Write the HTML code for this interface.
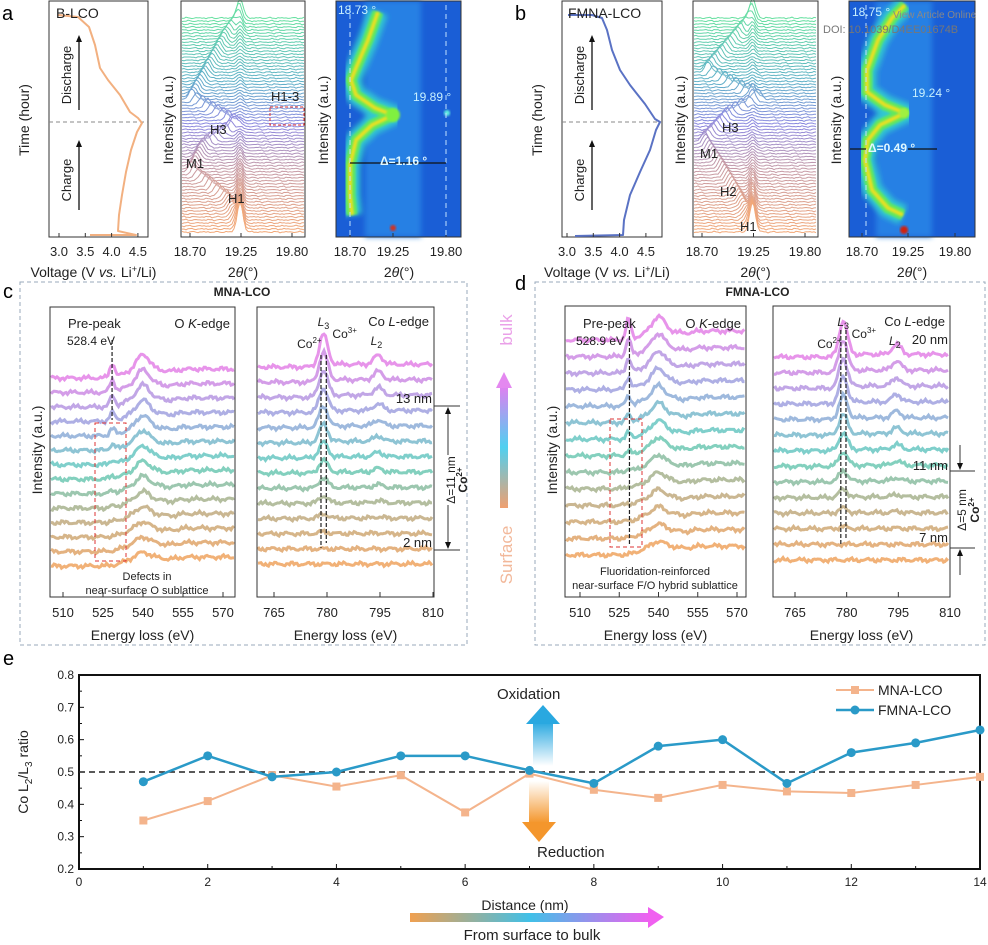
<!DOCTYPE html>
<html><head><meta charset="utf-8"><style>
body{margin:0;background:#fff;}
svg{display:block;font-family:"Liberation Sans",sans-serif;}
</style></head><body>
<svg id="fig" width="988" height="945" viewBox="0 0 988 945" xmlns="http://www.w3.org/2000/svg">
<defs>
<filter id="blur2"><feGaussianBlur stdDeviation="2.6"/></filter>
<filter id="blur1"><feGaussianBlur stdDeviation="1"/></filter>
<linearGradient id="upArr" x1="0" y1="1" x2="0" y2="0"><stop offset="0" stop-color="#fff"/><stop offset="1" stop-color="#29a8e0"/></linearGradient>
<linearGradient id="dnArr" x1="0" y1="0" x2="0" y2="1"><stop offset="0" stop-color="#fff"/><stop offset="1" stop-color="#f4962c"/></linearGradient>
<linearGradient id="sbArr" x1="0" y1="0" x2="1" y2="0"><stop offset="0" stop-color="#f0a050"/><stop offset="0.5" stop-color="#40c0e8"/><stop offset="1" stop-color="#f060f0"/></linearGradient>
<linearGradient id="bulkArr" x1="0" y1="1" x2="0" y2="0"><stop offset="0" stop-color="#f0a070"/><stop offset="0.5" stop-color="#50d0f0"/><stop offset="1" stop-color="#e080f0"/></linearGradient>
</defs>
<g id="topG"></g>
<g id="midG"></g>
<g id="peG"></g>
</svg>
<script>
// ---- Panel e data ----
const distances=[1,2,3,4,5,6,7,8,9,10,11,12,13,14];
const mnaValues=[0.35,0.41,0.49,0.455,0.49,0.375,0.495,0.445,0.42,0.46,0.44,0.435,0.46,0.485];
const fmnaValues=[0.47,0.55,0.485,0.50,0.55,0.55,0.505,0.465,0.58,0.60,0.465,0.56,0.59,0.63];
const xTicks=[0,2,4,6,8,10,12,14];
const yTicks=[0.2,0.3,0.4,0.5,0.6,0.7,0.8];

const NS="http://www.w3.org/2000/svg";
function mk(parent,tag,attrs,text){const e=document.createElementNS(NS,tag);for(const k in attrs)e.setAttribute(k,attrs[k]);if(text!==undefined)e.textContent=text;parent.appendChild(e);return e;}
function noise(i,k){return Math.sin(i*1.7+k*3.1)*0.5+Math.sin(i*0.53+k*7.3)*0.7+Math.sin(i*3.9+k*1.3)*0.4;}
function hex(c){return [parseInt(c.slice(1,3),16),parseInt(c.slice(3,5),16),parseInt(c.slice(5,7),16)];}
function grad(stops,f){for(let i=0;i<stops.length-1;i++){if(f<=stops[i+1][0]){const t=(f-stops[i][0])/(stops[i+1][0]-stops[i][0]);const a=hex(stops[i][1]),b=hex(stops[i+1][1]);return `rgb(${a.map((v,j)=>Math.round(v+(b[j]-v)*t)).join(',')})`;}}return stops[stops.length-1][1];}
function txt(p,x,y,s,t,name,extra){const e=mk(p,'text',Object.assign({x:x,y:y,'font-size':s},extra||{}),t);return e;}
function interp(keys,f){for(let i=0;i<keys.length-1;i++){if(f<=keys[i+1][0]){const t=(f-keys[i][0])/(keys[i+1][0]-keys[i][0]);return keys[i][1]+(keys[i+1][1]-keys[i][1])*t;}}return keys[keys.length-1][1];}

const gTop=document.getElementById('topG');
txt(gTop,2,20,20,'a','panel-a-label');
txt(gTop,515,20,20,'b','panel-b-label');
txt(gTop,3,298,20,'c','panel-c-label');
txt(gTop,515,290,20,'d','panel-d-label');
txt(gTop,3,665,20,'e','panel-e-label');

function voltagePanel(x0,x1,name,color,pts,v30){
  const g=mk(gTop,'g',{});
  mk(g,'rect',{x:x0,y:1,width:x1-x0,height:236,fill:'none',stroke:'#333','stroke-width':1});
  mk(g,'line',{x1:x0,y1:122,x2:x1,y2:122,stroke:'#888','stroke-dasharray':'4,3'});
  mk(g,'polyline',{points:pts.map(p=>p.join(',')).join(' '),fill:'none',stroke:color,'stroke-width':2,'stroke-linejoin':'round'});
  ['3.0','3.5','4.0','4.5'].forEach((t,i)=>{const x=v30+i*26.3;mk(g,'line',{x1:x,y1:237,x2:x,y2:233,stroke:'#333'});txt(g,x,256,13,t,'voltage-tick',{'text-anchor':'middle',fill:'#222'});});
  txt(g,x0-20,120,14,'Time (hour)','time-axis-title',{'text-anchor':'middle',transform:`rotate(-90 ${x0-20} 120)`,fill:'#222'});
  txt(g,(x0+x1)/2-5,277,14,'','voltage-axis-title',{'text-anchor':'middle',fill:'#222'}).innerHTML='Voltage (V <tspan font-style="italic">vs.</tspan> Li<tspan dy="-5" font-size="9">+</tspan><tspan dy="5">/Li)</tspan>';
  const ax=x0+30;
  mk(g,'line',{x1:ax,y1:110,x2:ax,y2:40,stroke:'#111','stroke-width':1.3});mk(g,'polygon',{points:`${ax-3},42 ${ax+3},42 ${ax},35`,fill:'#111'});
  mk(g,'line',{x1:ax,y1:210,x2:ax,y2:145,stroke:'#111','stroke-width':1.3});mk(g,'polygon',{points:`${ax-3},147 ${ax+3},147 ${ax},140`,fill:'#111'});
  txt(g,ax-8,75,13,'Discharge','discharge-label',{'text-anchor':'middle',transform:`rotate(-90 ${ax-8} 75)`,fill:'#222'});
  txt(g,ax-8,180,13,'Charge','charge-label',{'text-anchor':'middle',transform:`rotate(-90 ${ax-8} 180)`,fill:'#222'});
}
voltagePanel(49,148,'b-lco','#f2b080',[[90,235],[136,235],[118,231],[119,215],[122,195],[126,172],[131,150],[137,132],[142,123],[138,118],[130,112],[120,95],[108,80],[100,68],[95,45],[89,27],[78,17],[58,15]],59);
txt(gTop,56,18,14,'B-LCO','b-lco-title',{fill:'#222'});
voltagePanel(562,662,'fmna-lco','#5a72c4',[[575,236],[623,235],[624,220],[630,195],[640,172],[650,150],[656,130],[660,122],[655,119],[645,104],[630,85],[620,70],[612,50],[607,30],[602,18],[592,15],[568,15]],567);
txt(gTop,568,18,14,'FMNA-LCO','fmna-lco-title',{fill:'#222'});

const xrdColors=[[0,'#f2a878'],[0.3,'#c49aa8'],[0.5,'#8c88e0'],[0.7,'#5fb0c8'],[1,'#66e0a0']];
function xrdPanel(x0,x1,name,keys,strong){
  const g=mk(gTop,'g',{});
  const d2x=t=>x0+9+(t-18.70)*((x1-x0-22)/1.1);
  const N=72;
  for(let i=N-1;i>=0;i--){
    const f=i/(N-1);const base=232-f*214;const pp=interp(keys,f);
    const mainAmp=interp(strong,f);
    let pts=[];
    for(let x=x0+1;x<=x1-1;x+=2){
      const t=18.70+(x-x0-9)/((x1-x0-22)/1.1);
      let y=base-mainAmp*Math.exp(-Math.pow((t-19.24)/0.04,2))-10*Math.exp(-Math.pow((t-pp)/0.05,2))-0.6*noise(x,i);
      pts.push(x+','+y.toFixed(1));
    }
    mk(g,'polyline',{points:pts.join(' '),fill:'#fff','fill-opacity':0.15,stroke:grad(xrdColors,f),'stroke-width':1});
  }
  mk(g,'rect',{x:x0,y:1,width:x1-x0,height:236,fill:'none',stroke:'#333'});
  [['18.70',18.70],['19.25',19.25],['19.80',19.80]].forEach(([t,v])=>{const x=d2x(v);mk(g,'line',{x1:x,y1:237,x2:x,y2:233,stroke:'#333'});txt(g,x,256,13,t,'2theta-tick',{'text-anchor':'middle',fill:'#222'});});
  txt(g,(x0+x1)/2,277,14,'','2theta-axis-title',{'text-anchor':'middle',fill:'#222'}).innerHTML='2<tspan font-style="italic">θ</tspan>(°)';
  txt(g,x0-8,120,14,'Intensity (a.u.)','intensity-axis-title',{'text-anchor':'middle',transform:`rotate(-90 ${x0-8} 120)`,fill:'#222'});
  return d2x;
}
xrdPanel(181,305,'b-lco',[[0,19.24],[0.15,19.1],[0.28,18.72],[0.4,18.85],[0.5,19.2],[0.62,18.72],[0.8,18.95],[0.92,19.1],[1,19.24]],[[0,20],[0.3,8],[0.5,3],[0.8,4],[1,10]]);
txt(gTop,228,203,13,'H1','h1-label',{fill:'#222'});txt(gTop,210,134,13,'H3','h3-label',{fill:'#222'});txt(gTop,186,168,13,'M1','m1-label',{fill:'#222'});txt(gTop,271,101,13,'H1-3','h1-3-label',{fill:'#222'});
mk(gTop,'rect',{x:270,y:107,width:34,height:18,fill:'none',stroke:'#d33','stroke-dasharray':'3,2'});
xrdPanel(693,818,'fmna-lco',[[0,19.24],[0.15,19.1],[0.3,18.9],[0.42,18.72],[0.55,19.0],[0.62,19.3],[0.75,18.75],[0.9,19.05],[1,19.24]],[[0,20],[0.3,6],[0.5,3],[0.8,4],[1,10]]);
txt(gTop,740,231,13,'H1','h1-label',{fill:'#222'});txt(gTop,720,196,13,'H2','h2-label',{fill:'#222'});txt(gTop,700,158,13,'M1','m1-label',{fill:'#222'});txt(gTop,722,132,13,'H3','h3-label',{fill:'#222'});

function heatmap(x0,x1,name,curve,cx,spot){
  const g=mk(gTop,'g',{});
  mk(g,'rect',{x:x0,y:1,width:x1-x0,height:236,fill:'#1a5ed6'});
  mk(g,'rect',{x:cx-28,y:1,width:56,height:236,fill:'#2880e4',filter:'url(#blur2)'});
  mk(g,'line',{x1:cx,y1:1,x2:cx,y2:237,stroke:'#50e0f0','stroke-width':5,filter:'url(#blur1)'});
  const dd='M'+curve.map(p=>p.join(',')).join(' L');
  mk(g,'path',{d:dd,fill:'none',stroke:'#30c8d0','stroke-width':20,filter:'url(#blur2)','stroke-linejoin':'round'});
  mk(g,'path',{d:dd,fill:'none',stroke:'#60e860','stroke-width':11,filter:'url(#blur1)','stroke-linejoin':'round'});
  mk(g,'path',{d:dd,fill:'none',stroke:'#e8e020','stroke-width':4,filter:'url(#blur1)','stroke-linejoin':'round'});
  spot.forEach(s=>mk(g,'circle',{cx:s[0],cy:s[1],r:s[2],fill:s[3],filter:'url(#blur1)'}));
  mk(g,'rect',{x:x0,y:1,width:x1-x0,height:236,fill:'none',stroke:'#333'});
  return g;
}
heatmap(336,461,'b-lco',[[378,12],[368,40],[356,68],[351,80],[356,95],[375,108],[393,115],[372,125],[356,140],[350,165],[350,195],[352,215]],393,[[393,115,7,'#80f040'],[393,228,3,'#d03020'],[447,113,3,'#60f0e0']]);
[['18.70',350],['19.25',393],['19.80',446]].forEach(([t,x])=>{mk(gTop,'line',{x1:x,y1:237,x2:x,y2:233,stroke:'#333'});txt(gTop,x,256,13,t,'2theta-tick',{'text-anchor':'middle',fill:'#222'});});
mk(gTop,'line',{x1:350,y1:5,x2:350,y2:237,stroke:'#c0e0ff','stroke-dasharray':'5,4'});
mk(gTop,'line',{x1:446,y1:5,x2:446,y2:237,stroke:'#c0e0ff','stroke-dasharray':'5,4'});
txt(gTop,338,14,12,'18.73 °','peak-label',{fill:'#c8f0ff'});txt(gTop,413,101,12,'19.89 °','peak-label',{fill:'#c8f0ff'});
mk(gTop,'line',{x1:350,y1:163,x2:446,y2:163,stroke:'#111','stroke-width':1.2});
txt(gTop,380,165,12,'Δ=1.16 °','delta-label',{fill:'#e0f8ff','font-weight':'bold'});
txt(gTop,399,277,14,'','2theta-axis-title',{'text-anchor':'middle',fill:'#222'}).innerHTML='2<tspan font-style="italic">θ</tspan>(°)';
txt(gTop,328,120,14,'Intensity (a.u.)','intensity-axis-title',{'text-anchor':'middle',transform:'rotate(-90 328 120)',fill:'#222'});

heatmap(849,975,'fmna-lco',[[905,5],[892,18],[878,40],[867,70],[867,92],[885,105],[905,113],[880,125],[868,140],[865,160],[872,190],[888,208],[903,215]],904,[[904,113,5,'#a0f040'],[904,230,4,'#d02010']]);
[['18.70',862],['19.25',908],['19.80',955]].forEach(([t,x])=>{mk(gTop,'line',{x1:x,y1:237,x2:x,y2:233,stroke:'#333'});txt(gTop,x,256,13,t,'2theta-tick',{'text-anchor':'middle',fill:'#222'});});
mk(gTop,'line',{x1:866,y1:5,x2:866,y2:237,stroke:'#c0e0ff','stroke-dasharray':'5,4'});
txt(gTop,852,16,12,'18.75 °','peak-label',{fill:'#c8f0ff'});txt(gTop,912,97,12,'19.24 °','peak-label',{fill:'#c8f0ff'});
mk(gTop,'line',{x1:850,y1:149,x2:866,y2:149,stroke:'#111','stroke-width':1.2});mk(gTop,'line',{x1:908,y1:149,x2:937,y2:149,stroke:'#111','stroke-width':1.2});
txt(gTop,868,152,12,'Δ=0.49 °','delta-label',{fill:'#e0f8ff','font-weight':'bold'});
txt(gTop,912,277,14,'','2theta-axis-title',{'text-anchor':'middle',fill:'#222'}).innerHTML='2<tspan font-style="italic">θ</tspan>(°)';
txt(gTop,841,120,14,'Intensity (a.u.)','intensity-axis-title',{'text-anchor':'middle',transform:'rotate(-90 841 120)',fill:'#222'});
txt(gTop,893,18,10,'View Article Online','watermark',{fill:'#888'});txt(gTop,823,33,11,'DOI: 10.1039/D4EE01674B','watermark',{fill:'#777'});

// ---- Spectra panels c & d ----
const gMid=document.getElementById('midG');
const specColors=[[0,'#f0a868'],[0.25,'#c0b088'],[0.5,'#68d0c0'],[0.75,'#a0a8e0'],[1,'#e488e8']];
function spectra(g,bx0,bx1,e0,e1,v0,v1,yTop,yBot,n,shape){
  const sx=e=>bx0+(e-e0)/(e1-e0)*(bx1-bx0);
  for(let i=0;i<n;i++){
    const f=i/(n-1);const base=yBot-f*(yBot-yTop);let pts=[];
    for(let x=v0;x<=v1;x+=1.5){const e=e0+(x-bx0)/(bx1-bx0)*(e1-e0);
      const y=base-shape(e,f)-1.6*noise(x*0.7,i);pts.push(x.toFixed(1)+','+y.toFixed(1));}
    mk(g,'polyline',{points:pts.join(' '),fill:'none',stroke:grad(specColors,f),'stroke-width':3,'stroke-opacity':0.9});
  }
  return sx;
}
const okShape=(pre)=>(e,f)=>{const step=9/(1+Math.exp(-(e-533)/2));return step+(5+10*f)*Math.exp(-Math.pow((e-540)/3.2,2))+pre*f*f*Math.exp(-Math.pow((e-528.5)/1.3,2))-2*Math.exp(-Math.pow((e-550)/4,2));};
const coShape=(amp)=>(e,f)=>{const ff=Math.max(0,f-0.1);return amp*ff*Math.exp(-Math.pow((e-779)/1.7,2))+amp*0.3*ff*Math.exp(-Math.pow((e-794.5)/1.8,2))+3*ff/(1+Math.exp(-(e-778)/1));};
function spectraBlock(oy,name,kbox,lbox,preAmp,coAmp,kTrace,lTrace,dashPre,dashCo,title){
  const g=mk(gMid,'g',{});
  const [kx0,kx1]=kbox,[lx0,lx1]=lbox;
  const sk=spectra(g,kTrace[0],kTrace[1],510,570,kx0+1,kx1-1,kTrace[2],kTrace[3],14,okShape(preAmp));
  const sl=spectra(g,lTrace[0],lTrace[1],765,810,lx0+1,lx1-1,lTrace[2],lTrace[3],14,coShape(coAmp));
  mk(g,'rect',{x:kx0,y:oy,width:kx1-kx0,height:597-oy,fill:'none',stroke:'#333'});
  mk(g,'rect',{x:lx0,y:oy,width:lx1-lx0,height:597-oy,fill:'none',stroke:'#333'});
  [510,525,540,555,570].forEach(v=>{const x=sk(v);mk(g,'line',{x1:x,y1:597,x2:x,y2:592,stroke:'#333'});txt(g,x,617,13,String(v),'energy-tick',{'text-anchor':'middle',fill:'#222'});});
  [765,780,795,810].forEach(v=>{const x=sl(v);mk(g,'line',{x1:x,y1:597,x2:x,y2:592,stroke:'#333'});txt(g,x,617,13,String(v),'energy-tick',{'text-anchor':'middle',fill:'#222'});});
  txt(g,(kx0+kx1)/2,640,14,'Energy loss (eV)','energy-axis-title',{'text-anchor':'middle',fill:'#222'});
  txt(g,(lx0+lx1)/2,640,14,'Energy loss (eV)','energy-axis-title',{'text-anchor':'middle',fill:'#222'});
  txt(g,kx0-8,450,14,'Intensity (a.u.)','intensity-axis-title',{'text-anchor':'middle',transform:`rotate(-90 ${kx0-8} 450)`,fill:'#222'});
  txt(g,(kx0+lx1)/2,296,12,title,'panel-title',{'text-anchor':'middle','font-weight':'bold',fill:'#222'});
  txt(g,kx0+18,328,13,'Pre-peak','pre-peak-label',{fill:'#222'});
  txt(g,kx1-5,328,13,'','o-k-edge-label',{'text-anchor':'end',fill:'#222'}).innerHTML='O <tspan font-style="italic">K</tspan>-edge';
  txt(g,lx1-5,326,13,'','co-l-edge-label',{'text-anchor':'end',fill:'#222'}).innerHTML='Co <tspan font-style="italic">L</tspan>-edge';
  const xp=sk(dashPre);mk(g,'line',{x1:xp,y1:dashCo[3],x2:xp,y2:dashCo[4],stroke:'#222','stroke-dasharray':'4,2','stroke-width':1.2});
  mk(g,'line',{x1:sl(778.3),y1:dashCo[0],x2:sl(778.3),y2:dashCo[2],stroke:'#222','stroke-dasharray':'4,2','stroke-width':1.2});
  mk(g,'line',{x1:sl(779.8),y1:dashCo[0],x2:sl(779.8),y2:dashCo[1],stroke:'#222','stroke-dasharray':'4,2','stroke-width':1.2});
  txt(g,sl(779),326,12,'','l3-label',{'text-anchor':'middle',fill:'#222'}).innerHTML='<tspan font-style="italic">L</tspan><tspan dy="3" font-size="9">3</tspan>';
  txt(g,sl(775),348,12,'','co2-label',{'text-anchor':'middle',fill:'#222'}).innerHTML='Co<tspan dy="-5" font-size="8">2+</tspan>';
  txt(g,sl(785),338,12,'','co3-label',{'text-anchor':'middle',fill:'#222'}).innerHTML='Co<tspan dy="-5" font-size="8">3+</tspan>';
  txt(g,sl(794),345,12,'','l2-label',{'text-anchor':'middle',fill:'#222'}).innerHTML='<tspan font-style="italic">L</tspan><tspan dy="3" font-size="9">2</tspan>';
}
mk(gMid,'rect',{x:20,y:282,width:447,height:363,fill:'none',stroke:'#9ab','stroke-dasharray':'4,3'});
spectraBlock(307,'mna-lco-spectra',[50,235],[257,434],14,34,[63,223,378,566],[274,433,367,564],528.4,[355,543,548,340,420],'MNA-LCO');
txt(gMid,67,345,12,'528.4 eV','pre-peak-energy',{fill:'#222'});
mk(gMid,'rect',{x:95,y:423,width:31,height:138,fill:'none',stroke:'#d33','stroke-dasharray':'4,3'});
txt(gMid,147,580,11,'Defects in','defects-label',{'text-anchor':'middle',fill:'#222'});txt(gMid,147,594,11,'near-surface O sublattice','defects-label',{'text-anchor':'middle',fill:'#222'});
txt(gMid,432,403,13,'13 nm','depth-label',{'text-anchor':'end',fill:'#222'});txt(gMid,432,547,13,'2 nm','depth-label',{'text-anchor':'end',fill:'#222'});
mk(gMid,'line',{x1:434,y1:406,x2:460,y2:406,stroke:'#333'});mk(gMid,'line',{x1:434,y1:550,x2:460,y2:550,stroke:'#333'});
mk(gMid,'line',{x1:448,y1:410,x2:448,y2:546,stroke:'#333'});
mk(gMid,'polygon',{points:'445,414 451,414 448,407',fill:'#111'});mk(gMid,'polygon',{points:'445,542 451,542 448,549',fill:'#111'});
mk(gMid,'rect',{x:444,y:455,width:10,height:50,fill:'#fff'});
txt(gMid,455,480,12,'Δ=11 nm','delta-nm',{'text-anchor':'middle',transform:'rotate(-90 455 480)',fill:'#222'});
txt(gMid,467,480,12,'','co2-label',{'text-anchor':'middle',transform:'rotate(-90 467 480)','font-weight':'bold',fill:'#222'}).innerHTML='Co<tspan dy="-5" font-size="8">2+</tspan>';
mk(gMid,'rect',{x:535,y:282,width:450,height:363,fill:'none',stroke:'#9ab','stroke-dasharray':'4,3'});
spectraBlock(306,'fmna-lco-spectra',[565,746],[773,950],20,38,[580,737,340,555],[795,950,357,560],528.9,[330,540,545,330,545],'FMNA-LCO');
txt(gMid,576,345,12,'528.9 eV','pre-peak-energy',{fill:'#222'});
mk(gMid,'rect',{x:610,y:419,width:32,height:128,fill:'none',stroke:'#d33','stroke-dasharray':'4,3'});
txt(gMid,655,575,11,'Fluoridation-reinforced','fluoridation-label',{'text-anchor':'middle',fill:'#222'});txt(gMid,655,589,11,'near-surface F/O hybrid sublattice','fluoridation-label',{'text-anchor':'middle',fill:'#222'});
txt(gMid,948,344,13,'20 nm','depth-label',{'text-anchor':'end',fill:'#222'});txt(gMid,948,470,13,'11 nm','depth-label',{'text-anchor':'end',fill:'#222'});txt(gMid,948,542,13,'7 nm','depth-label',{'text-anchor':'end',fill:'#222'});
mk(gMid,'line',{x1:950,y1:471,x2:975,y2:471,stroke:'#333'});mk(gMid,'line',{x1:950,y1:548,x2:975,y2:548,stroke:'#333'});
mk(gMid,'line',{x1:960,y1:445,x2:960,y2:468,stroke:'#333'});mk(gMid,'polygon',{points:'957,463 963,463 960,470',fill:'#111'});
mk(gMid,'line',{x1:960,y1:551,x2:960,y2:575,stroke:'#333'});mk(gMid,'polygon',{points:'957,556 963,556 960,549',fill:'#111'});
txt(gMid,966,510,12,'Δ=5 nm','delta-nm',{'text-anchor':'middle',transform:'rotate(-90 966 510)',fill:'#222'});
txt(gMid,979,510,12,'','co2-label',{'text-anchor':'middle',transform:'rotate(-90 979 510)','font-weight':'bold',fill:'#222'}).innerHTML='Co<tspan dy="-5" font-size="8">2+</tspan>';
mk(gMid,'rect',{x:500,y:386,width:8,height:122,fill:'url(#bulkArr)'});
mk(gMid,'polygon',{points:'496,388 512,388 504,372',fill:'#e488f0'});
txt(gMid,512,330,17,'bulk','bulk-label',{'text-anchor':'middle',transform:'rotate(-90 512 330)',fill:'#eaa0e8'});
txt(gMid,512,555,17,'Surface','surface-label',{'text-anchor':'middle',transform:'rotate(-90 512 555)',fill:'#f2b89a'});

// ---- Panel e chart ----
const gPe=document.getElementById('peG');
const PX0=79,PX1=980,PY0=675,PY1=869;
const xS=v=>PX0+(v-0)/(14-0)*(PX1-PX0);
const yS=v=>PY1-(v-0.2)/(0.8-0.2)*(PY1-PY0);
const frame=mk(gPe,'rect',{x:PX0,y:PY0,width:PX1-PX0,height:PY1-PY0,fill:'none',stroke:'#111','stroke-width':2});


yTicks.forEach(v=>{const y=yS(v);mk(gPe,'line',{x1:PX0,y1:y,x2:PX0+5,y2:y,stroke:'#111'});txt(gPe,PX0-5,y+4,12,v.toFixed(1),'y-tick-label',{'text-anchor':'end',fill:'#222'});});
yTicks.slice(0,-1).forEach(v=>{const y=yS(v+0.05);mk(gPe,'line',{x1:PX0,y1:y,x2:PX0+3,y2:y,stroke:'#111'});});
xTicks.forEach(v=>{const x=xS(v);mk(gPe,'line',{x1:x,y1:PY1,x2:x,y2:PY1-5,stroke:'#111'});txt(gPe,x,886,12,String(v),'x-tick-label',{'text-anchor':'middle',fill:'#222'});});
distances.forEach(v=>{if(v%2){const x=xS(v);mk(gPe,'line',{x1:x,y1:PY1,x2:x,y2:PY1-3,stroke:'#111'});}});
txt(gPe,525,910,14,'Distance (nm)','x-axis-title',{'text-anchor':'middle',fill:'#222'});
txt(gPe,28,772,14,'','y-axis-title',{'text-anchor':'middle',transform:'rotate(-90 28 772)',fill:'#222'}).innerHTML='Co L<tspan dy="4" font-size="10">2</tspan><tspan dy="-4">/L</tspan><tspan dy="4" font-size="10">3</tspan><tspan dy="-4"> ratio</tspan>';
mk(gPe,'line',{x1:PX0,y1:yS(0.5),x2:PX1,y2:yS(0.5),stroke:'#222','stroke-width':1.5,'stroke-dasharray':'6,4'});
const arx=543;
mk(gPe,'rect',{x:arx-10,y:722,width:20,height:44,fill:'url(#upArr)'});
mk(gPe,'polygon',{points:`${arx-17},724 ${arx+17},724 ${arx},705`,fill:'#29a8e0'});
txt(gPe,497,699,15,'Oxidation','oxidation-label',{fill:'#222'});
mk(gPe,'rect',{x:arx-14,y:781,width:20,height:42,fill:'url(#dnArr)'});
mk(gPe,'polygon',{points:`${arx-21},822 ${arx+13},822 ${arx-4},842`,fill:'#f4962c'});
txt(gPe,537,857,15,'Reduction','reduction-label',{fill:'#222'});
const mnaLine=mk(gPe,'polyline',{points:distances.map((dv,i)=>xS(dv)+','+yS(mnaValues[i])).join(' '),fill:'none',stroke:'#f4b48c','stroke-width':2});


distances.forEach((dv,i)=>{const r=mk(gPe,'rect',{x:xS(dv)-4,y:yS(mnaValues[i])-4,width:8,height:8,fill:'#f4b48c'});

});
const fmLine=mk(gPe,'polyline',{points:distances.map((dv,i)=>xS(dv)+','+yS(fmnaValues[i])).join(' '),fill:'none',stroke:'#2a9ac8','stroke-width':2.5});


distances.forEach((dv,i)=>{const cc=mk(gPe,'circle',{cx:xS(dv),cy:yS(fmnaValues[i]),r:4.5,fill:'#2a9ac8'});

});
const lg=mk(gPe,'g',{});


mk(lg,'line',{x1:836,y1:690,x2:874,y2:690,stroke:'#f4b48c','stroke-width':2});mk(lg,'rect',{x:851,y:686,width:8,height:8,fill:'#f4b48c'});
txt(lg,878,695,14,'MNA-LCO','legend-entry-mna',{fill:'#222'});
mk(lg,'line',{x1:836,y1:710,x2:874,y2:710,stroke:'#2a9ac8','stroke-width':2.5});mk(lg,'circle',{cx:855,cy:710,r:4.5,fill:'#2a9ac8'});
txt(lg,878,715,14,'FMNA-LCO','legend-entry-fmna',{fill:'#222'});
mk(gPe,'rect',{x:410,y:913,width:240,height:9,fill:'url(#sbArr)'});
mk(gPe,'polygon',{points:'648,907 648,928 664,917',fill:'#f060f0'});
txt(gPe,532,940,15,'From surface to bulk','surface-to-bulk-label',{'text-anchor':'middle',fill:'#222'});
</script>
</body></html>
